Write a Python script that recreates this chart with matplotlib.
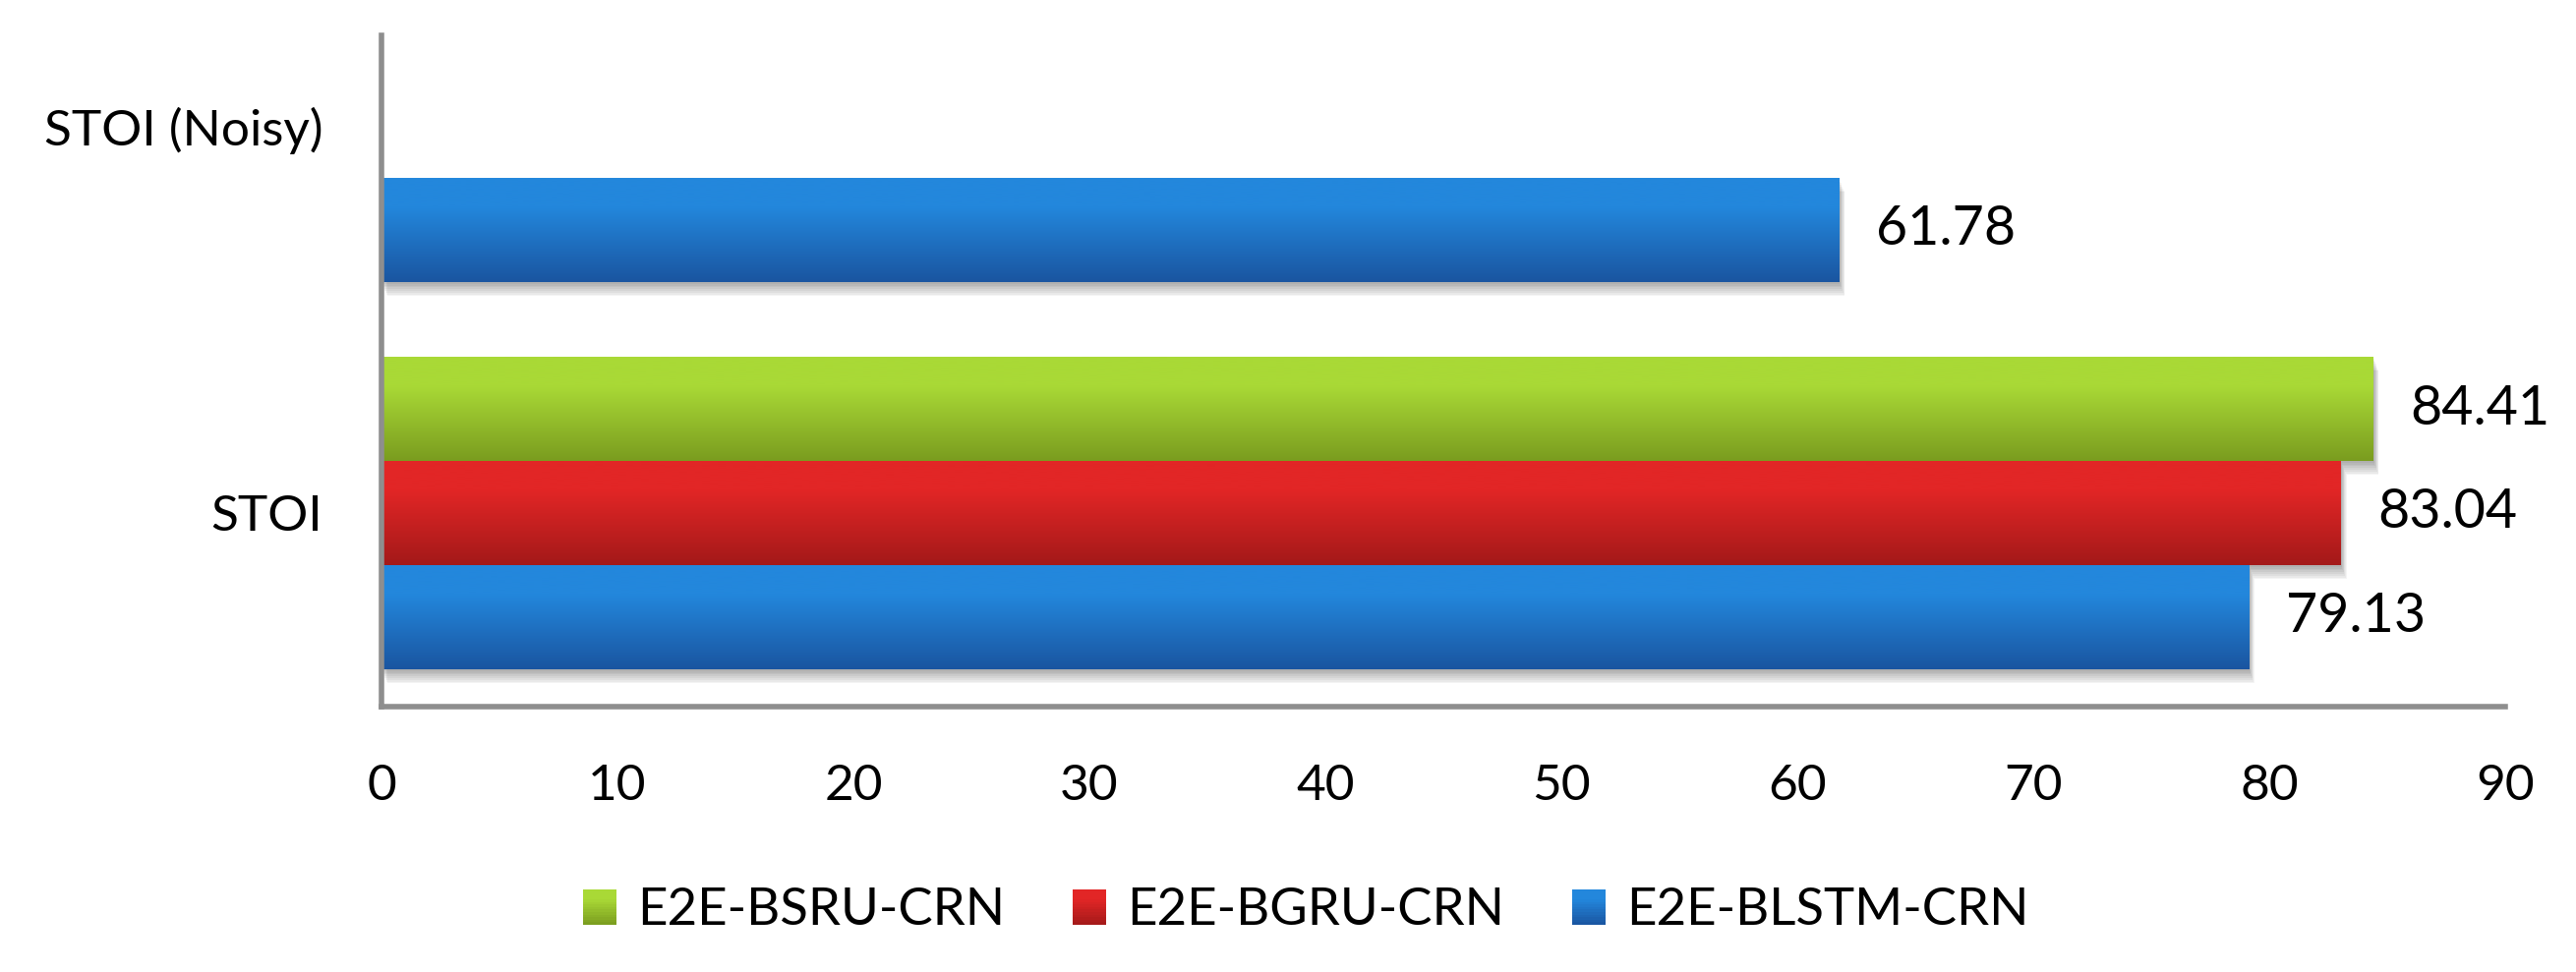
import numpy as np
import matplotlib
matplotlib.use("Agg")
import matplotlib.pyplot as plt
from matplotlib.colors import LinearSegmentedColormap, to_rgb
from matplotlib.patches import Rectangle, Patch
from matplotlib.legend_handler import HandlerBase
import matplotlib.patheffects as pe

plt.rcParams['font.family'] = ['Lato', 'DejaVu Sans']

# ---- data ----
categories = ["STOI", "STOI (Noisy)"]
series_names = ["E2E-BSRU-CRN", "E2E-BGRU-CRN", "E2E-BLSTM-CRN"]
bsru = [84.41, np.nan]
bgru = [83.04, np.nan]
blstm = [79.13, 61.78]
xticks = [0, 10, 20, 30, 40, 50, 60, 70, 80, 90]

# ---- styles ----
grad_colors = {
    "E2E-BSRU-CRN": ("#A9D936", "#7A9C1F"),
    "E2E-BGRU-CRN": ("#E22626", "#A31919"),
    "E2E-BLSTM-CRN": ("#2387DC", "#1A55A0"),
}
bar_h = 0.269
offsets = [bar_h, 0.0, -bar_h]

fig = plt.figure(figsize=(26.2, 9.89), dpi=100)
ax = fig.add_axes([388 / 2620, 1 - 719 / 989, (2548 - 388) / 2620, (719 - 36) / 989])

ypos = np.arange(len(categories))
shadow = [pe.SimplePatchShadow(offset=(0.5 * i, -1.3 * i), shadow_rgbFace='black', alpha=0.045)
          for i in range(1, 9)] + [pe.Normal()]

grad = np.linspace(0, 1, 256).reshape(-1, 1)
for k, (name, vals) in enumerate(zip(series_names, [bsru, bgru, blstm])):
    top, bot = grad_colors[name]
    cmap = LinearSegmentedColormap.from_list(name, [(0, bot), (0.72, top), (1, top)])
    cont = ax.barh(ypos + offsets[k], vals, height=bar_h, color=cmap(0.6), edgecolor='none',
                   zorder=2, label=name)
    for v, p in zip(vals, cont.patches):
        if np.isnan(v):
            p.set_visible(False)
            continue
        p.set_path_effects(shadow)
        x0, y0 = p.get_x(), p.get_y()
        im = ax.imshow(grad, extent=[x0, x0 + p.get_width(), y0, y0 + p.get_height()],
                       origin='lower', cmap=cmap, aspect='auto', zorder=3,
                       interpolation='bilinear')
        im.set_clip_path(p)
    labels = ["" if np.isnan(v) else f"{v:.2f}" for v in vals]
    ax.bar_label(cont, labels=labels, padding=27, fontsize=40, color='black', zorder=4)

ax.set_xlim(0, 90)
ax.set_ylim(-0.5, 1.2335)
ax.set_xticks(xticks)
ax.set_xticklabels([str(t) for t in xticks], fontsize=37)
ax.set_yticks(ypos)
ax.set_yticklabels(categories, fontsize=37)
ax.tick_params(axis='x', length=0, pad=42)
ax.tick_params(axis='y', length=0, pad=43)

for s in ['top', 'right']:
    ax.spines[s].set_visible(False)
for s in ['left', 'bottom']:
    ax.spines[s].set_color('#8E8E8E')
    ax.spines[s].set_linewidth(4)
    ax.spines[s].set_zorder(5)


class GradHandler(HandlerBase):
    def __init__(self, top, bot):
        super().__init__()
        self.top = np.array(to_rgb(top))
        self.bot = np.array(to_rgb(bot))

    def create_artists(self, legend, orig_handle, xdescent, ydescent, width, height, fontsize, trans):
        arts = []
        n = 14
        for i in range(n):
            f = min(1.0, (i + 0.5) / n / 0.72)
            col = self.bot + (self.top - self.bot) * f
            r = Rectangle((-xdescent, -ydescent + i * height / n), width, height / n * 1.05,
                          facecolor=col, edgecolor='none', transform=trans)
            arts.append(r)
        return arts


handles = [Patch(label=n) for n in series_names]
hmap = {h: GradHandler(*grad_colors[n]) for h, n in zip(handles, series_names)}
fig.legend(handles=handles, labels=series_names, handler_map=hmap, loc='center',
           bbox_to_anchor=(0.507, 0.0627), ncol=3, frameon=False, fontsize=38,
           handlelength=0.65, handleheight=0.65, handletextpad=0.4, columnspacing=1.3)

fig.savefig("out.png", dpi=100)
